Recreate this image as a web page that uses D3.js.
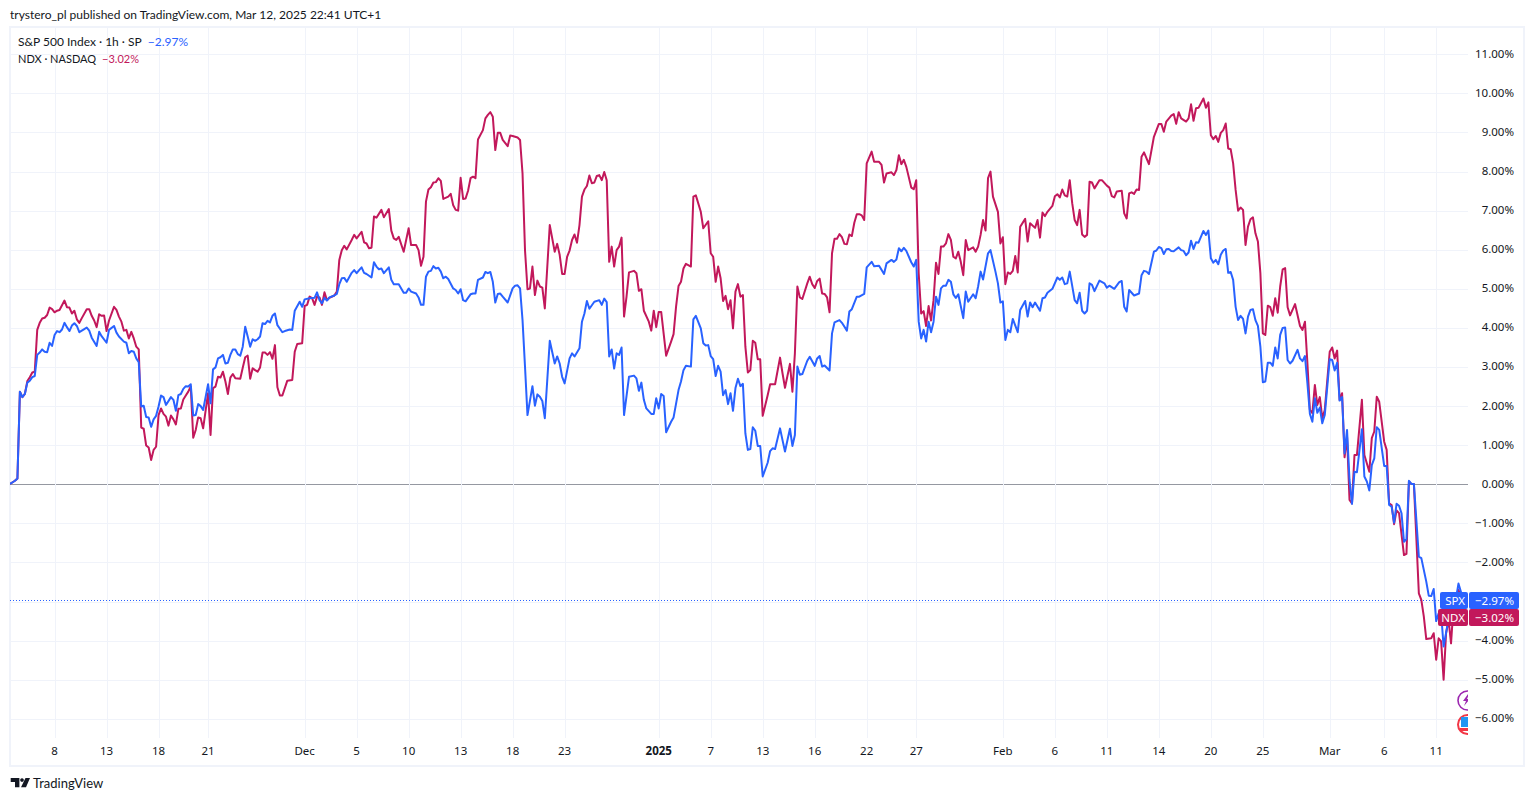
<!DOCTYPE html>
<html lang="en">
<head>
    <meta charset="UTF-8">
    <title>S&amp;P 500 Index vs NDX</title>
    <style>
        html, body { margin: 0; padding: 0; background: #fff; overflow: hidden; }
        svg { display: block; font-family: Lato, "Noto Sans", sans-serif; }
        .axis text { fill: #131722; font-size: 11.5px; font-family: "Noto Sans", sans-serif; }
        .axis .domain, .axis line { display: none; }
    </style>
</head>
<body>
    <svg width="1534" height="801"></svg>

    <script src="https://d3js.org/d3.v7.min.js"></script>
    <script>
        // tick labels on the time axis, position given as hourly bar number
        const tickBars = [18, 39, 60, 80, 119, 140, 161, 182, 203, 224, 262, 283, 304, 325, 346, 366, 401, 422, 443, 464, 485, 506, 533, 555, 576];
        const tickNames = ["8", "13", "18", "21", "Dec", "5", "10", "13", "18", "23", "2025", "7", "13", "16", "22", "27", "Feb", "6", "11", "14", "20", "25", "Mar", "6", "11"];
        const percentTicks = [-6, -5, -4, -3, -2, -1, 0, 1, 2, 3, 4, 5, 6, 7, 8, 9, 10, 11];

        // [bar, % change]
        const spxPoints = [
            [0,0.01],[2,0.09],[3,0.15],[4,2.37],[5,2.23],[6,2.31],[7,2.60],[8,2.65],[9,2.74],[10,2.77],[11,3.31],[12,3.37],[13,3.45],[14,3.39],[15,3.38],[16,3.62],[17,3.54],[18,3.82],[19,3.92],[20,3.89],[21,3.96],[22,4.13],[23,4.02],[24,3.92],[25,4.06],[26,4.12],[27,4.05],[28,3.89],[29,3.93],[30,3.97],[31,4.01],[32,3.93],[33,3.75],[35,3.54],[36,3.90],[37,3.79],[39,3.62],[40,3.95],[42,4.05],[43,3.88],[44,3.78],[46,3.65],[47,3.62],[48,3.35],[49,3.41],[50,3.39],[51,3.22],[52,3.12],[53,1.99],[54,2.01],[55,1.72],[56,1.71],[57,1.47],[58,1.66],[59,1.75],[60,1.99],[61,2.27],[62,2.23],[63,2.03],[65,2.23],[66,2.16],[67,1.88],[68,2.28],[69,2.31],[70,2.44],[71,2.51],[72,2.50],[73,2.56],[74,1.76],[75,1.77],[76,2.05],[77,2.00],[78,1.90],[80,2.56],[81,2.07],[82,2.94],[83,2.99],[84,3.22],[85,3.25],[86,3.31],[87,3.09],[88,3.11],[89,3.31],[90,3.45],[91,3.45],[92,3.33],[93,3.29],[94,3.52],[95,4.03],[96,3.78],[97,3.52],[98,3.71],[99,3.67],[100,3.71],[101,3.78],[102,4.12],[103,4.10],[104,4.18],[105,4.14],[106,4.31],[107,4.37],[108,4.07],[110,3.89],[111,3.92],[113,3.96],[114,3.95],[115,4.44],[117,4.67],[118,4.54],[119,4.73],[121,4.76],[123,4.77],[124,4.91],[125,4.71],[126,4.63],[127,4.77],[128,4.70],[129,4.78],[131,4.83],[132,4.87],[133,5.12],
            [134,5.27],[135,5.28],[136,5.18],[138,5.41],[139,5.48],[140,5.40],[141,5.48],[142,5.55],[143,5.41],[144,5.38],[146,5.29],[147,5.68],[148,5.57],[149,5.50],[150,5.52],[151,5.40],[153,5.55],[154,5.23],[155,5.12],[157,5.12],[159,4.90],[160,4.90],[161,5.01],[162,4.93],[164,4.88],[165,4.78],[166,4.59],[167,4.59],[168,5.31],[169,5.44],[170,5.46],[171,5.58],[172,5.52],[173,5.54],[174,5.44],[175,5.27],[176,5.31],[177,5.25],[179,5.01],[180,4.97],[181,4.88],[182,4.99],[183,4.71],[184,4.68],[186,4.86],[187,4.88],[188,4.88],[189,5.23],[191,5.29],[192,5.43],[193,5.40],[194,5.43],[195,5.18],[196,4.65],[197,4.87],[198,4.88],[199,4.80],[201,4.65],[203,5.01],[204,5.08],[205,5.09],[206,5.01],[207,4.20],[208,3.01],[209,1.77],[211,2.51],[212,2.01],[213,2.30],[214,2.24],[215,2.13],[216,1.69],[218,3.67],[220,3.09],[221,3.27],[222,3.09],[223,2.75],[224,2.58],[226,3.22],[227,3.35],[228,3.27],[230,3.48],[231,4.16],[232,4.37],[233,4.69],[234,4.49],[236,4.67],[238,4.71],[239,4.59],[240,4.75],[241,4.66],[242,3.27],[243,3.45],[244,2.96],[245,3.35],[246,3.31],[247,3.50],[248,1.77],[250,2.75],[252,2.78],[253,2.71],[254,2.39],[255,2.60],[256,2.16],[257,1.94],[259,1.80],[260,1.80],[261,2.20],[262,1.94],[263,2.31],[264,2.26],[265,1.33],[267,1.60],[268,1.71],[270,2.41],[271,2.63],[272,2.92],[273,3.03],[275,3.01],
            [276,4.22],[277,4.31],[279,3.99],[280,3.61],[281,3.55],[282,3.56],[283,3.28],[284,3.20],[285,2.77],[286,3.03],[287,2.88],[288,2.28],[289,2.41],[290,2.05],[291,2.33],[292,1.88],[293,2.46],[294,2.70],[295,2.51],[296,2.57],[297,1.30],[298,0.88],[299,0.90],[300,1.46],[301,1.37],[302,0.98],[303,0.98],[304,0.20],[306,0.55],[307,0.85],[308,0.92],[309,0.90],[311,1.43],[312,1.13],[313,0.84],[315,1.42],[316,0.98],[317,1.26],[318,3.01],[319,2.80],[320,2.82],[322,3.16],[323,3.26],[325,3.03],[326,3.22],[327,3.28],[328,3.01],[329,3.04],[331,2.91],[332,3.86],[333,4.14],[335,4.20],[336,4.13],[338,3.93],[339,4.42],[340,4.48],[342,4.80],[343,4.80],[345,4.87],[346,5.55],[348,5.69],[349,5.58],[351,5.59],[353,5.38],[354,5.65],[356,5.74],[357,5.69],[358,5.75],[359,6.04],[360,5.96],[361,6.05],[362,5.97],[364,5.68],[365,5.57],[366,5.74],[367,4.16],[368,3.73],[369,3.95],[370,3.65],[371,4.16],[372,3.89],[373,4.16],[374,4.80],[375,4.59],[376,5.01],[377,5.08],[378,5.08],[379,5.23],[380,5.18],[381,4.86],[382,4.77],[383,4.86],[385,4.25],[386,4.93],[387,4.67],[389,4.86],[390,4.76],[391,5.06],[392,5.44],[393,5.24],[395,5.91],[396,5.99],[398,5.44],[399,5.14],[400,4.65],[401,4.68],[402,3.69],[403,3.95],[404,3.89],[405,4.23],[407,3.89],[408,4.46],[410,4.69],[411,4.29],[412,4.65],[413,4.53],[414,4.65],[416,4.44],[417,4.76],[418,4.78],[419,4.90],[421,5.00],[423,5.29],[424,5.23],[425,5.29],[426,5.12],[427,5.14],[428,5.44],[430,4.71],[431,4.63],[432,4.90],[433,4.44],[434,4.37],[435,4.44],[436,5.14],[437,5.10],[438,4.94],[440,5.21],[442,5.14],[443,5.03],[444,5.08],[446,5.00],[448,5.17],[449,5.20],[450,4.54],[451,4.42],[452,4.97],[454,4.83],[456,4.88],[457,5.35],[458,5.46],[459,5.44],[460,5.38],[462,5.95],[463,5.98],[464,6.07],[465,6.04],[466,5.89],[467,6.01],[468,6.02],[469,5.97],[470,5.96],[472,6.06],[473,5.99],[474,5.97],[475,5.86],[476,5.93],[477,6.23],[478,6.02],[479,6.19],[480,6.18],[482,6.48],[483,6.38],[484,6.49],[485,5.78],[486,5.67],[487,5.74],[488,5.63],[489,5.87],[490,5.98],[491,6.02],[492,5.41],[493,5.43],[494,5.23],[495,4.54],[496,4.20],[497,4.31],[498,4.23],[499,3.86],[500,4.29],[501,4.46],[502,4.48],[503,4.20],[504,4.05],[505,3.52],[506,2.61],[507,2.63],[508,3.11],[509,3.11],[510,3.03],[511,3.50],[512,3.22],[513,3.82],[514,4.00],[515,4.01],[516,3.18],[517,3.09],[518,3.16],[520,3.44],[521,3.22],[522,3.15],[523,3.28],[524,2.58],[525,1.80],
            [526,1.60],[527,2.20],[528,1.83],[529,1.96],[530,1.56],[531,1.77],[533,3.20],[534,3.18],[535,2.91],[536,3.11],[537,2.14],[538,2.23],[539,0.79],[540,1.39],[541,0.11],[542,-0.50],[543,0.32],[544,0.31],[546,1.41],[547,0.20],[548,0.07],[549,-0.16],[550,0.49],[551,0.66],[552,1.46],[553,1.39],[555,0.47],[556,0.47],[557,-0.53],[558,-0.57],[559,-0.98],[560,-0.50],[561,-0.55],[562,-0.74],[563,-1.47],[564,-1.40],[565,0.09],[566,0.01],[567,0.01],[569,-1.85],[570,-1.89],[572,-2.49],[573,-2.85],[574,-2.86],[575,-2.68],[576,-3.50],[577,-3.30],[578,-3.30],[579,-4.15],[581,-3.45],[583,-3.30],[585,-2.54],[587,-2.97]
        ];
        const ndxPoints = [
            [0,0.01],[2,0.09],[3,0.15],[4,2.37],[5,2.23],[6,2.31],[7,2.64],[8,2.74],[9,2.86],[10,2.88],[11,3.95],[12,4.13],[13,4.24],[14,4.26],[15,4.33],[16,4.52],[17,4.48],[18,4.40],[19,4.44],[20,4.46],[22,4.70],[23,4.53],[24,4.52],[25,4.37],[26,4.44],[27,4.22],[28,4.13],[29,4.25],[31,4.48],[32,4.48],[33,4.31],[34,4.19],[35,4.02],[36,4.35],[37,4.31],[38,4.32],[39,3.92],[40,4.19],[42,4.54],[43,4.46],[44,4.29],[45,4.16],[46,3.93],[47,3.95],[48,3.73],[49,3.90],[50,3.73],[51,3.52],[52,3.45],[53,1.45],[54,1.42],[55,0.99],[56,0.94],[57,0.62],[58,0.88],[59,0.96],[60,1.77],[61,1.94],[62,1.80],[63,1.73],[64,1.50],[65,1.76],[66,1.66],[67,1.53],[68,1.93],[69,1.94],[70,2.17],[71,2.27],[72,2.37],[73,2.50],[74,1.19],[75,1.39],[76,1.71],[77,1.69],[78,1.43],[80,2.33],[81,1.26],[82,2.46],[83,2.50],[84,2.75],[85,2.73],[86,2.88],[87,2.63],[88,2.31],[89,2.73],[90,2.82],[91,2.71],[93,2.70],[94,2.98],[95,3.25],[96,3.29],[97,2.70],[98,2.97],[99,2.92],[100,2.88],[101,2.99],[102,3.37],[103,3.37],[104,3.31],[105,3.38],[106,3.21],[107,3.56],[108,2.48],[109,2.27],[110,2.27],[112,2.65],[114,2.67],[115,3.39],[116,3.59],[118,3.61],[119,4.56],[120,4.59],[121,4.80],[122,4.76],[123,4.59],[124,4.80],[125,4.78],[126,4.59],[127,4.91],[128,4.71],[129,4.77],[131,4.83],[132,4.93],[133,5.74],
            [134,5.99],[135,6.10],[136,6.01],[138,6.25],[139,6.38],[140,6.29],[142,6.46],[143,6.19],[144,6.16],[145,6.04],[146,6.05],[147,6.85],[148,6.82],[150,7.02],[151,6.83],[153,7.04],[154,6.49],[155,6.29],[156,6.25],[157,6.33],[159,5.95],[161,6.55],[162,6.12],[164,6.12],[165,5.99],[166,5.59],[167,5.82],[168,7.23],[169,7.54],[170,7.60],[171,7.72],[172,7.73],[173,7.83],[174,7.76],[175,7.30],[177,7.36],[178,7.43],[179,7.14],[180,7.02],[181,7.00],[182,7.84],[183,7.30],[184,7.31],[185,7.51],[186,7.83],[187,7.87],[188,7.83],[189,8.82],[191,9.06],[192,9.36],[193,9.45],[194,9.52],[195,9.40],[196,8.55],[197,8.99],[198,8.99],[199,8.81],[201,8.65],[202,8.92],[203,8.91],[205,8.87],[206,8.81],[207,7.95],[208,5.99],[209,4.99],[210,5.01],[211,5.57],[212,4.84],[213,5.21],[214,5.06],[215,5.03],[216,4.50],[218,6.63],[220,5.95],[221,6.15],[222,5.87],[223,5.38],[224,5.38],[225,5.82],[226,5.98],[227,6.25],[228,6.39],[229,6.18],[230,6.63],[231,7.36],[232,7.54],[233,7.63],[234,7.90],[235,7.70],[236,7.72],[237,7.89],[238,7.91],[239,7.78],[240,7.99],[241,7.78],[242,5.69],[243,6.08],[244,5.57],[245,5.99],[246,6.08],[247,6.31],[248,4.29],[249,4.80],[250,5.42],[252,5.46],[253,5.40],[254,4.95],[255,4.99],[256,4.44],[258,4.16],[259,3.93],[260,4.44],[261,4.02],[262,4.41],[263,4.41],[265,3.29],[267,3.65],[268,3.84],[269,4.54],[270,5.07],[271,5.18],[272,5.52],[273,5.64],[275,5.57],
            [276,7.36],[277,7.39],[279,6.97],[280,6.55],[282,6.73],[283,5.91],[284,5.82],[285,5.18],[286,5.57],[287,5.27],[288,4.69],[289,4.82],[290,4.48],[291,4.71],[292,3.99],[293,4.93],[294,5.12],[295,4.80],[296,4.84],[297,3.52],[298,2.86],[299,2.92],[300,3.67],[301,3.62],[302,3.20],[303,3.20],[304,1.75],[306,2.28],[307,2.56],[309,2.56],[311,3.24],[312,2.84],[313,2.47],[315,3.08],[316,2.37],[317,3.35],[318,5.06],[319,4.78],[320,4.74],[322,5.14],[323,5.31],[324,5.12],[325,5.02],[326,5.20],[327,5.26],[328,4.88],[329,4.87],[330,4.78],[331,4.40],[332,5.91],[333,6.28],[334,6.28],[335,6.40],[336,6.32],[337,6.15],[338,6.14],[339,6.39],[340,6.35],[341,6.69],[342,6.91],[343,6.91],[344,6.88],[345,6.76],[346,8.21],[348,8.51],[349,8.25],[351,8.25],[352,8.17],[353,7.72],[354,7.95],[356,7.98],[357,7.91],[358,8.04],[359,8.42],[360,8.19],[361,8.30],[362,8.12],[364,7.59],[365,7.55],[366,7.78],[367,5.40],[368,4.37],[369,4.43],[370,4.05],[371,4.56],[372,4.19],[373,4.71],[374,5.67],[375,5.38],[376,6.08],[377,6.08],[378,6.16],[379,6.40],[380,6.25],[381,5.82],[382,5.78],[383,5.95],[384,5.69],[385,5.35],[386,6.25],[387,5.99],[389,6.06],[390,5.95],[391,6.08],[392,6.38],[393,6.76],[394,6.49],[395,7.83],[396,8.00],[397,7.36],[399,6.97],[400,6.16],[401,6.32],[402,5.12],[403,5.42],[404,5.38],[405,5.46],[406,5.84],[407,5.42],[408,6.59],[410,6.79],[411,6.21],[412,6.68],[414,6.56],[415,6.76],[416,6.31],[417,6.95],[418,6.86],[419,6.97],[421,7.12],[422,7.37],[423,7.42],[424,7.34],[425,7.54],[426,7.39],[427,7.36],[428,7.78],[429,7.19],[430,6.76],[431,6.63],[432,7.02],[433,6.39],[434,6.33],[435,6.38],[436,7.74],[437,7.72],[438,7.57],[440,7.78],[441,7.78],[443,7.64],[444,7.59],[445,7.37],[446,7.34],[447,7.49],[449,7.51],[450,6.93],[451,6.80],[452,7.44],[453,7.47],[454,7.43],[455,7.54],[456,7.53],[457,8.38],[458,8.49],[460,8.19],[462,8.89],[464,9.22],[465,9.22],[466,9.02],[467,9.28],[469,9.43],[470,9.47],[471,9.22],[472,9.52],[473,9.36],[475,9.28],[476,9.36],[477,9.72],[478,9.30],[479,9.62],[480,9.63],[482,9.87],[483,9.63],[484,9.77],[485,8.93],[486,8.83],[487,8.91],[488,8.76],[489,8.99],[490,9.06],[491,9.23],[492,8.59],[493,8.57],[494,8.21],[495,7.53],[496,7.00],[497,7.08],[498,7.02],[499,6.12],[500,6.59],[501,6.78],[502,6.83],[503,6.42],[504,6.21],[505,5.40],[506,3.86],[507,3.82],[508,4.57],[509,4.53],[510,4.31],[511,4.76],[512,4.39],[513,5.06],[514,5.50],[515,5.53],[516,4.53],[517,4.32],[519,4.61],[521,4.05],[522,3.95],[523,4.16],[524,3.09],[525,1.90],
            [526,1.82],[527,2.54],[528,2.03],[529,2.23],[530,1.69],[531,1.90],[533,3.39],[534,3.50],[535,3.22],[536,3.42],[537,2.16],[538,2.33],[539,0.69],[540,1.22],[541,-0.40],[542,-0.49],[543,0.75],[544,0.75],[546,2.16],[547,0.75],[549,0.32],[550,1.18],[551,1.35],[552,2.24],[553,2.11],[555,1.09],[556,0.88],[557,-0.49],[558,-0.53],[559,-1.02],[560,-0.67],[561,-0.74],[563,-1.81],[564,-1.78],[565,0.07],[566,0.01],[567,0.01],[569,-2.79],[570,-2.96],[571,-3.38],[572,-3.96],[574,-3.94],[575,-3.81],[576,-4.49],[577,-3.94],[578,-4.02],[579,-5.00],[580,-3.81],[581,-3.47],[582,-4.07],[583,-3.13],[585,-2.70],[587,-3.02]
        ];

        const colors = { spx: "#2962FF", ndx: "#C2185B", text: "#131722", grid: "#F0F3FA", zero: "#9598A1" };

        const svg = d3.select("svg");
        const paneLeft = 10, paneRight = 1468, paneBottom = 738;

        let xScale = d3.scaleLinear().domain([0, 590]).range([paneLeft, paneLeft + 590 * 2.476]);
        let yScale = d3.scaleLinear().domain([-6, 11]).range([718.8, 54.3]);

        // frame
        svg.append("rect")
            .attr("x", 10).attr("y", 27).attr("width", 1514).attr("height", 739)
            .attr("fill", "none").attr("stroke", colors.grid).attr("stroke-width", 2);

        // grid
        svg.append("g").selectAll("line").data(percentTicks).enter().append("line")
            .attr("x1", paneLeft).attr("x2", paneRight)
            .attr("y1", d => Math.round(yScale(d)) + 0.5).attr("y2", d => Math.round(yScale(d)) + 0.5)
            .attr("stroke", d => d === 0 ? colors.zero : colors.grid);
        svg.append("g").selectAll("line").data(tickBars).enter().append("line")
            .attr("x1", d => Math.round(xScale(d)) + 0.5).attr("x2", d => Math.round(xScale(d)) + 0.5)
            .attr("y1", 27).attr("y2", paneBottom)
            .attr("stroke", colors.grid);

        svg.append("clipPath").attr("id", "pane").append("rect")
            .attr("x", paneLeft).attr("y", 27).attr("width", paneRight - paneLeft).attr("height", paneBottom - 27);

        const pane = svg.append("g").attr("clip-path", "url(#pane)");

        // last value dotted line
        pane.append("line")
            .attr("x1", paneLeft).attr("x2", paneRight)
            .attr("y1", Math.round(yScale(-2.97)) + 0.5).attr("y2", Math.round(yScale(-2.97)) + 0.5)
            .attr("stroke", colors.spx).attr("stroke-dasharray", "1,2");

        let line = d3.line().x(d => xScale(d[0])).y(d => yScale(d[1]));
        pane.append("path").datum(ndxPoints).attr("d", line)
            .attr("fill", "none").attr("stroke", colors.ndx).attr("stroke-width", 2).attr("stroke-linejoin", "round");
        pane.append("path").datum(spxPoints).attr("d", line)
            .attr("fill", "none").attr("stroke", colors.spx).attr("stroke-width", 2).attr("stroke-linejoin", "round");

        // event badges cut off by the pane edge
        pane.append("circle").attr("cx", 1467.5).attr("cy", 700.5).attr("r", 9.5)
            .attr("fill", "#fff").attr("stroke", "#9C27B0").attr("stroke-width", 1.6);
        pane.append("path").attr("d", "M1468 694l-5 7h3l-2 5l6-7h-3l2-5z").attr("fill", "#9C27B0");
        pane.append("circle").attr("cx", 1467.5).attr("cy", 724.5).attr("r", 9.5)
            .attr("fill", "#fff").attr("stroke", "#F23645").attr("stroke-width", 2);
        pane.append("rect").attr("x", 1461).attr("y", 717).attr("width", 8).attr("height", 10).attr("fill", "#2196F3");
        pane.append("rect").attr("x", 1460).attr("y", 728).attr("width", 9).attr("height", 3).attr("fill", "#F23645");

        // axes
        let yAxis = d3.axisRight(yScale).tickValues(percentTicks).tickSize(0).tickPadding(0)
            .tickFormat(d => (d < 0 ? "\u2212" : "") + Math.abs(d).toFixed(2) + "%");
        svg.append("g").attr("class", "axis").attr("transform", "translate(1514,-0.7)").call(yAxis)
            .selectAll("text").attr("text-anchor", "end");

        let xAxis = d3.axisBottom(xScale).tickValues(tickBars).tickSize(0).tickPadding(0)
            .tickFormat((d, i) => tickNames[i]);
        let xAxisG = svg.append("g").attr("class", "axis").attr("transform", "translate(-0.5,747)").call(xAxis);
        xAxisG.selectAll("text").style("font-weight", d => d === 262 ? "bold" : "normal");

        // header and legend
        svg.append("text").attr("x", 10).attr("y", 19).attr("fill", colors.text).style("font-size", "12px")
            .text("trystero_pl published on TradingView.com, Mar 12, 2025 22:41 UTC+1");

        function legendRow(y, name, value, color, size) {
            let t = svg.append("text").attr("x", 18).attr("y", y).style("font-size", size + "px");
            t.append("tspan").attr("fill", colors.text).text(name);
            t.append("tspan").attr("fill", color).attr("dx", 6).text(value);
        }
        legendRow(45.5, "S&P 500 Index \u00B7 1h \u00B7 SP", "\u22122.97%", colors.spx, 12);
        legendRow(63, "NDX \u00B7 NASDAQ", "\u22123.02%", colors.ndx, 11);

        // last value labels
        function lastLabel(y, left, name, value, color) {
            svg.append("rect").attr("x", left).attr("y", y).attr("width", 1468 - left).attr("height", 17)
                .attr("rx", 2).attr("fill", color);
            svg.append("rect").attr("x", 1469).attr("y", y).attr("width", 50).attr("height", 17)
                .attr("rx", 2).attr("fill", color);
            svg.append("text").attr("x", 1465).attr("y", y + 12.5).attr("text-anchor", "end")
                .attr("fill", "#fff").style("font-size", "11.5px").style("font-family", "Noto Sans").text(name);
            svg.append("text").attr("x", 1514).attr("y", y + 12.5).attr("text-anchor", "end")
                .attr("fill", "#fff").style("font-size", "11.5px").style("font-family", "Noto Sans").text(value);
        }
        lastLabel(592, 1440, "SPX", "\u22122.97%", colors.spx);
        lastLabel(609, 1438, "NDX", "\u22123.02%", colors.ndx);

        // logo
        svg.append("path").attr("d", "M10.7 778h8.7v9.3h-4.4v-5.3h-4.3z M22 778.2a1.8 1.8 0 1 0 0.01 0z M25.5 778H30l-4 9.3h-5z").attr("fill", colors.text);
        svg.append("text").attr("x", 33).attr("y", 788).attr("fill", colors.text).style("font-size", "13px").text("TradingView");
    </script>
</body>
</html>
